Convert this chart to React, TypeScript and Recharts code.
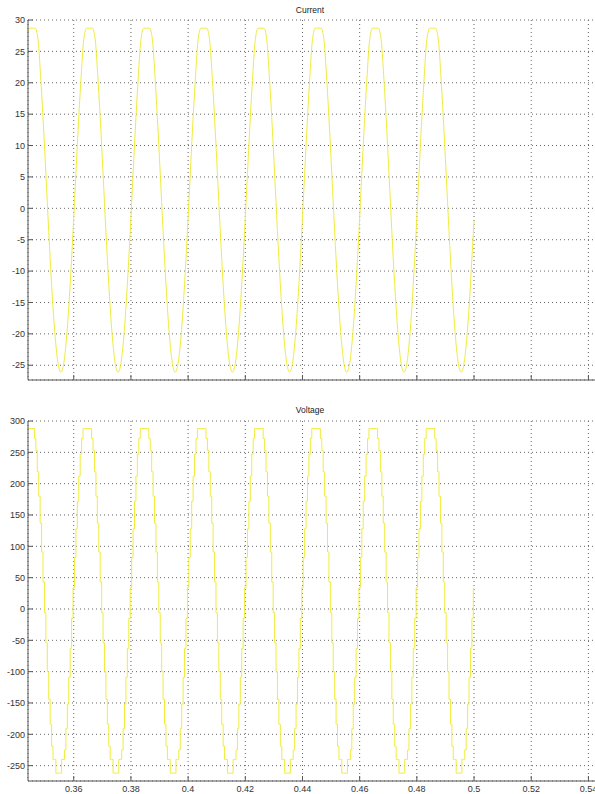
import React from 'react'
import { LineChart, Line, XAxis, YAxis, CartesianGrid } from 'recharts'

// current: edge points plus a 1 ms sample grid in between
const currentTimes: number[] = [
    0.344,
    ...Array.from({ length: 156 }, (_, k) => Number((0.3445 + k * 0.001).toFixed(4))),
    0.5,
]

// voltage: edge points plus a 0.5 ms sample-and-hold grid
const voltageTimes: number[] = [
    0.344,
    ...Array.from({ length: 311 }, (_, k) => Number((0.3445 + k * 0.0005).toFixed(5))),
    0.5,
]

const currentValues = [
    28.0,
    28.7, 28.7, 28.7, 26.9, 20.4, 12.3, 3.2, -5.9, -14.0, -20.5, -24.7, -26.1, -24.7, -20.5, -14.0, -5.9, 3.2, 12.3, 20.4, 26.9,
    28.7, 28.7, 28.7, 26.9, 20.4, 12.3, 3.2, -5.9, -14.0, -20.5, -24.7, -26.1, -24.7, -20.5, -14.0, -5.9, 3.2, 12.3, 20.4, 26.9,
    28.7, 28.7, 28.7, 26.9, 20.4, 12.3, 3.2, -5.9, -14.0, -20.5, -24.7, -26.1, -24.7, -20.5, -14.0, -5.9, 3.2, 12.3, 20.4, 26.9,
    28.7, 28.7, 28.7, 26.9, 20.4, 12.3, 3.2, -5.9, -14.0, -20.5, -24.7, -26.1, -24.7, -20.5, -14.0, -5.9, 3.2, 12.3, 20.4, 26.9,
    28.7, 28.7, 28.7, 26.9, 20.4, 12.3, 3.2, -5.9, -14.0, -20.5, -24.7, -26.1, -24.7, -20.5, -14.0, -5.9, 3.2, 12.3, 20.4, 26.9,
    28.7, 28.7, 28.7, 26.9, 20.4, 12.3, 3.2, -5.9, -14.0, -20.5, -24.7, -26.1, -24.7, -20.5, -14.0, -5.9, 3.2, 12.3, 20.4, 26.9,
    28.7, 28.7, 28.7, 26.9, 20.4, 12.3, 3.2, -5.9, -14.0, -20.5, -24.7, -26.1, -24.7, -20.5, -14.0, -5.9, 3.2, 12.3, 20.4, 26.9,
    28.7, 28.7, 28.7, 26.9, 20.4, 12.3, 3.2, -5.9, -14.0, -20.5, -24.7, -26.1, -24.7, -20.5, -14.0, -5.9,
    -2.0,
]

const voltageValues = [
    288,
    288, 288, 288, 288, 272, 253, 219, 180, 137, 91, 43, -6, -54, -100, -144, -184, -219, -240, -240, -262,
    -262, -262, -262, -240, -240, -225, -191, -152, -109, -63, -15, 34, 82, 128, 172, 212, 247, 272, 288, 288,
    288, 288, 288, 288, 272, 253, 219, 180, 137, 91, 43, -6, -54, -100, -144, -184, -219, -240, -240, -262,
    -262, -262, -262, -240, -240, -225, -191, -152, -109, -63, -15, 34, 82, 128, 172, 212, 247, 272, 288, 288,
    288, 288, 288, 288, 272, 253, 219, 180, 137, 91, 43, -6, -54, -100, -144, -184, -219, -240, -240, -262,
    -262, -262, -262, -240, -240, -225, -191, -152, -109, -63, -15, 34, 82, 128, 172, 212, 247, 272, 288, 288,
    288, 288, 288, 288, 272, 253, 219, 180, 137, 91, 43, -6, -54, -100, -144, -184, -219, -240, -240, -262,
    -262, -262, -262, -240, -240, -225, -191, -152, -109, -63, -15, 34, 82, 128, 172, 212, 247, 272, 288, 288,
    288, 288, 288, 288, 272, 253, 219, 180, 137, 91, 43, -6, -54, -100, -144, -184, -219, -240, -240, -262,
    -262, -262, -262, -240, -240, -225, -191, -152, -109, -63, -15, 34, 82, 128, 172, 212, 247, 272, 288, 288,
    288, 288, 288, 288, 272, 253, 219, 180, 137, 91, 43, -6, -54, -100, -144, -184, -219, -240, -240, -262,
    -262, -262, -262, -240, -240, -225, -191, -152, -109, -63, -15, 34, 82, 128, 172, 212, 247, 272, 288, 288,
    288, 288, 288, 288, 272, 253, 219, 180, 137, 91, 43, -6, -54, -100, -144, -184, -219, -240, -240, -262,
    -262, -262, -262, -240, -240, -225, -191, -152, -109, -63, -15, 34, 82, 128, 172, 212, 247, 272, 288, 288,
    288, 288, 288, 288, 272, 253, 219, 180, 137, 91, 43, -6, -54, -100, -144, -184, -219, -240, -240, -262,
    -262, -262, -262, -240, -240, -225, -191, -152, -109, -63, -15,
    33,
]

const xTicks = [0.36, 0.38, 0.4, 0.42, 0.44, 0.46, 0.48, 0.5, 0.52, 0.54]
const currentTicks = [-25, -20, -15, -10, -5, 0, 5, 10, 15, 20, 25, 30]
const voltageTicks = [-250, -200, -150, -100, -50, 0, 50, 100, 150, 200, 250, 300]

const currentData = currentTimes.map((t, i) => ({ t, v: currentValues[i] }))
const voltageData = voltageTimes.map((t, i) => ({ t, v: voltageValues[i] }))

const FONT = '"Liberation Sans", Arial, sans-serif'
const AXIS = '#555'
const TRACE = '#f0ec3c'
const tickStyle = { fontSize: 9, fill: '#333', fontFamily: FONT }

interface ScopeProps {
    title: string
    data: Array<{ t: number; v: number }>
    yDomain: [number, number]
    yTicks: number[]
    top: number
    height: number
    marginTop: number
    xAxisHeight: number
    showXLabels: boolean
    step: boolean
}

function Scope(props: ScopeProps) {
    return (
        <div style={{ position: 'absolute', left: 0, top: props.top }}>
            <div
                style={{
                    position: 'absolute',
                    left: 260,
                    width: 100,
                    top: 5,
                    lineHeight: '10px',
                    textAlign: 'center',
                    fontSize: 8.5,
                    fontFamily: FONT,
                    color: '#222',
                }}
            >
                {props.title}
            </div>
            <LineChart
                width={640}
                height={props.height}
                data={props.data}
                margin={{ top: props.marginTop, right: 23, bottom: 0, left: 0 }}
            >
                <CartesianGrid stroke="#666" strokeDasharray="1 3" />
                <XAxis
                    xAxisId="top"
                    orientation="top"
                    type="number"
                    dataKey="t"
                    domain={[0.344, 0.55]}
                    allowDataOverflow
                    ticks={xTicks}
                    interval={0}
                    height={0}
                    tickSize={-5}
                    tickFormatter={() => ''}
                    stroke={AXIS}
                />
                <XAxis
                    type="number"
                    dataKey="t"
                    domain={[0.344, 0.55]}
                    allowDataOverflow
                    ticks={xTicks}
                    interval={0}
                    height={props.xAxisHeight}
                    tickSize={-5}
                    tickMargin={10}
                    tick={tickStyle}
                    tickFormatter={(v: number) => (props.showXLabels ? String(Number(v.toFixed(2))) : '')}
                    stroke={AXIS}
                />
                <YAxis
                    type="number"
                    domain={props.yDomain}
                    allowDataOverflow
                    ticks={props.yTicks}
                    interval={0}
                    width={28}
                    tickSize={-5}
                    tickMargin={8}
                    tick={tickStyle}
                    stroke={AXIS}
                />
                <Line
                    type={props.step ? 'step' : 'monotone'}
                    dataKey="v"
                    stroke={TRACE}
                    strokeWidth={1}
                    dot={false}
                    isAnimationActive={false}
                />
            </LineChart>
        </div>
    )
}

export default function App() {
    return (
        <div
            style={{
                position: 'absolute',
                left: 0,
                top: 0,
                width: 595,
                height: 794,
                overflow: 'hidden',
                background: '#fff',
            }}
        >
            <Scope
                title="Current"
                data={currentData}
                yDomain={[-27.35, 30]}
                yTicks={currentTicks}
                top={0}
                height={400}
                marginTop={20}
                xAxisHeight={20}
                showXLabels={false}
                step={false}
            />
            <Scope
                title="Voltage"
                data={voltageData}
                yDomain={[-274.5, 300]}
                yTicks={voltageTicks}
                top={400}
                height={394}
                marginTop={21}
                xAxisHeight={13}
                showXLabels={true}
                step={true}
            />
        </div>
    )
}
